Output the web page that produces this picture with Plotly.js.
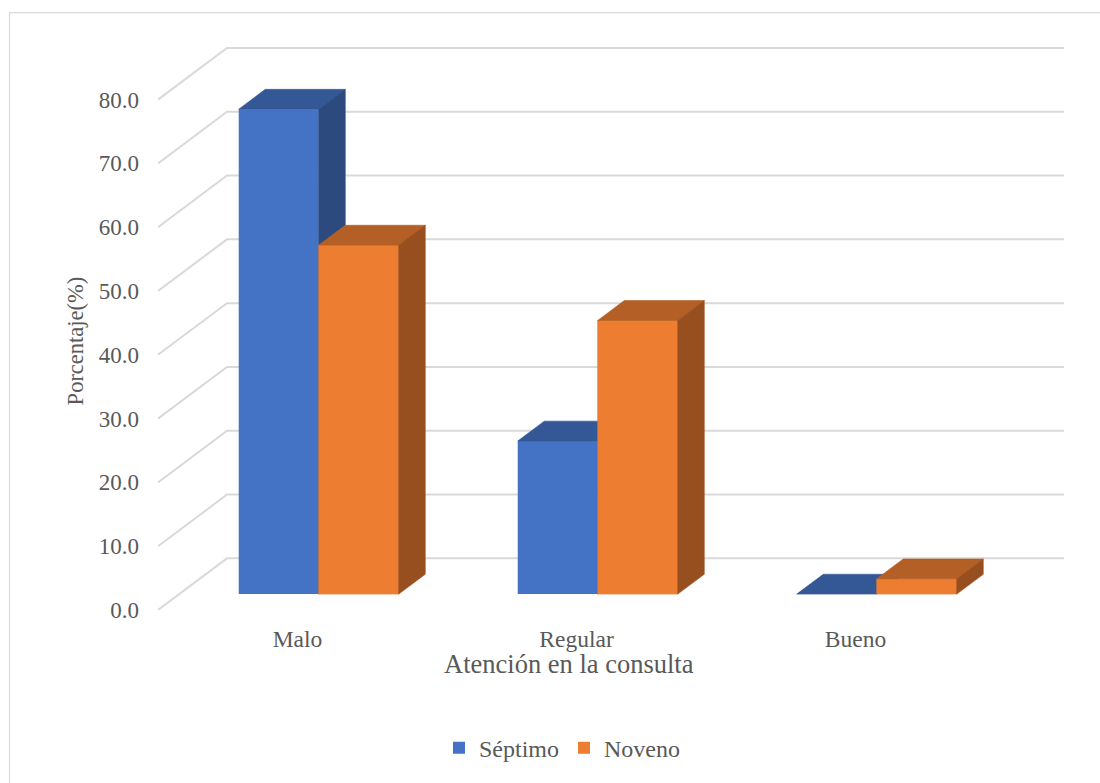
<!DOCTYPE html>
<html>
<head>
<meta charset="utf-8">
<script src="https://cdn.plot.ly/plotly-3.0.1.min.js"></script>
<style>
html,body{margin:0;padding:0;background:#fff;}
#chart{width:1100px;height:783px;}
</style>
</head>
<body>
<div id="chart"></div>
<script>
// ---- data ----
const categories = ['Malo', 'Regular', 'Bueno'];
const septimo = [76.0, 24.0, 0.0];
const noveno = [54.7, 42.9, 2.4];
const yTickValues = [0, 10, 20, 30, 40, 50, 60, 70, 80];
const yTickLabels = ['0.0', '10.0', '20.0', '30.0', '40.0', '50.0', '60.0', '70.0', '80.0'];
const seriesNames = ['Séptimo', 'Noveno'];
const xTitle = 'Atención en la consulta';
const yTitle = 'Porcentaje(%)';

// ---- pseudo-3D geometry (in axis units) ----
const W = 1100, H = 783;
const ML = 158, MR = 36, MT = 40, MB = 169;
const PXU = 279;            // px per category unit
const PYU = 6.425;          // px per value unit
const X0 = -0.5, X1 = X0 + (W - ML - MR) / PXU;
const Y0 = 0, Y1 = (H - MT - MB) / PYU;
const DX = 69 / PXU;        // full depth shift in x units
const DY = 52 / PYU;        // full depth shift in y units
const D0 = 16 / 52, D1 = 36 / 52;   // bar depth span
const BW = 80 / PXU;        // bar width

function proj(u, v, d) { return [u + d * DX, v + d * DY]; }

const colors = {
  front: ['#4472C4', '#ED7D31'],
  top:   ['#345796', '#B45F25'],
  side:  ['#2C4A7E', '#984F1F']
};

function faces(vals, s, kind) {
  const xs = [], ys = [];
  vals.forEach((v, i) => {
    const u0 = i - BW + s * BW, u1 = u0 + BW;
    let pts;
    if (kind === 'front') pts = [[u0, 0, D0], [u1, 0, D0], [u1, v, D0], [u0, v, D0]];
    else if (kind === 'top') pts = [[u0, v, D0], [u1, v, D0], [u1, v, D1], [u0, v, D1]];
    else pts = [[u1, 0, D0], [u1, 0, D1], [u1, v, D1], [u1, v, D0]];
    pts.push(pts[0]);
    pts.forEach(p => { const q = proj(p[0], p[1], p[2]); xs.push(q[0]); ys.push(q[1]); });
    xs.push(null); ys.push(null);
  });
  return {
    type: 'scatter', mode: 'lines', x: xs, y: ys, fill: 'toself',
    fillcolor: colors[kind][s], line: {color: colors[kind][s], width: 0.6},
    hoverinfo: 'skip', showlegend: false, cliponaxis: false
  };
}

// gridlines (below all marks): left wall diagonals + back wall horizontals
const gridShapes = [];
yTickValues.forEach(v => {
  const a = proj(X0, v, 0), b = proj(X0, v, 1), c = proj(X0 + categories.length, v, 1);
  gridShapes.push({type: 'path', xref: 'x', yref: 'y', layer: 'below',
    path: `M${a[0]},${a[1]}L${b[0]},${b[1]}L${c[0]},${c[1]}`,
    line: {color: '#D9D9D9', width: 2}});
});

const series = [septimo, noveno];
const bars = series.map((vals, s) => ({
  type: 'bar', name: seriesNames[s],
  x: categories.map((c, i) => i), y: vals,
  base: D0 * DY, width: BW,
  offset: s === 0 ? -BW + D0 * DX : D0 * DX,
  marker: {color: colors.front[s], line: {width: 0}},
  hoverinfo: 'skip'
}));

const data = [
  bars[0], bars[1],
  faces(septimo, 0, 'top'), faces(septimo, 0, 'side'),
  faces(noveno, 1, 'front'), faces(noveno, 1, 'top'), faces(noveno, 1, 'side')
];

const mk = size => ({family: 'Liberation Serif, Times New Roman, serif', size: size, color: '#595959'});
const px2paperX = px => (px - ML) / (W - ML - MR);
const px2paperY = py => (H - MB - py) / (H - MT - MB);

const layout = {
  width: W, height: H,
  margin: {l: ML, r: MR, t: MT, b: MB, pad: 0},
  paper_bgcolor: '#FFFFFF', plot_bgcolor: 'rgba(0,0,0,0)',
  barmode: 'overlay',
  font: mk(23),
  showlegend: true,
  legend: {
    orientation: 'h', x: px2paperX(562), xanchor: 'center',
    y: px2paperY(753), yanchor: 'middle',
    font: mk(24), bgcolor: 'rgba(0,0,0,0)', itemwidth: 30
  },
  xaxis: {
    range: [X0, X1], tickvals: categories.map((c, i) => i), ticktext: categories,
    showgrid: false, zeroline: false, showline: false, ticks: '', automargin: false,
    tickfont: mk(23.5), ticklabelstandoff: 12, fixedrange: true
  },
  yaxis: {
    range: [Y0, Y1], tickvals: yTickValues, ticktext: yTickLabels,
    showgrid: false, zeroline: false, showline: false, ticks: '', automargin: false,
    tickfont: mk(23), ticklabelstandoff: 18, fixedrange: true
  },
  annotations: [
    {text: xTitle, xref: 'paper', yref: 'paper', x: px2paperX(569), y: px2paperY(668),
     xanchor: 'center', yanchor: 'middle', showarrow: false, font: mk(26.5)},
    {text: yTitle, xref: 'paper', yref: 'paper', x: px2paperX(75), y: px2paperY(343.5),
     xanchor: 'center', yanchor: 'middle', textangle: -90, showarrow: false, font: mk(22.5)}
  ],
  shapes: gridShapes.concat([
    {type: 'rect', xref: 'paper', yref: 'paper', x0: px2paperX(9.5), x1: px2paperX(1110),
     y0: px2paperY(800), y1: px2paperY(12.5), line: {color: '#D9D9D9', width: 1.2}, layer: 'below'}
  ])
};

Plotly.newPlot('chart', data, layout, {displayModeBar: false, staticPlot: true});
</script>
</body>
</html>
